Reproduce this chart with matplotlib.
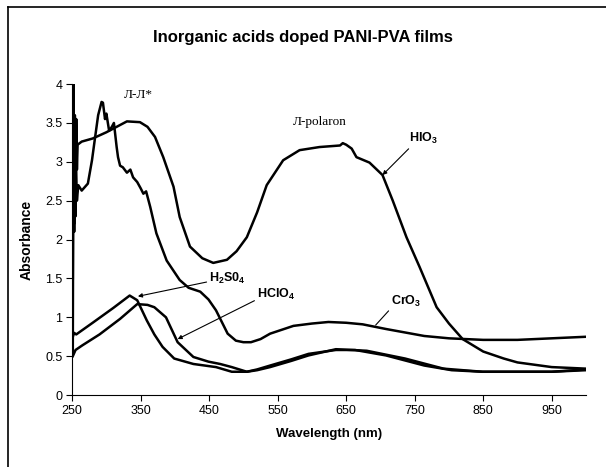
import numpy as np
import matplotlib
matplotlib.use("Agg")
import matplotlib.pyplot as plt
from matplotlib.lines import Line2D
from matplotlib.ticker import FuncFormatter

plt.rcParams['font.family'] = ['Liberation Sans', 'DejaVu Sans']
plt.rcParams['mathtext.fontset'] = 'custom'
plt.rcParams['mathtext.bf'] = 'Liberation Sans:bold'
plt.rcParams['mathtext.rm'] = 'Liberation Sans:bold'
plt.rcParams['mathtext.default'] = 'bf'

# HIO3
hio3_x = [251, 252, 253, 254, 255, 256, 257, 258, 264, 280, 300, 315, 330, 349, 360, 371,
          383, 398, 407, 422, 440, 456, 476, 490, 505, 520, 534, 558, 582, 611, 641, 645,
          650, 658, 665, 684, 703, 718, 738, 757, 782, 800, 820, 850, 880, 900, 950, 1000]
hio3_y = [0.55, 4.2, 2.1, 3.6, 2.3, 3.55, 2.9, 3.22, 3.26, 3.3, 3.38, 3.45, 3.52, 3.51, 3.45, 3.32,
          3.06, 2.68, 2.29, 1.91, 1.76, 1.70, 1.74, 1.85, 2.03, 2.35, 2.70, 3.02, 3.15, 3.19, 3.21, 3.24,
          3.22, 3.17, 3.06, 2.99, 2.83, 2.50, 2.03, 1.65, 1.13, 0.92, 0.72, 0.56, 0.47, 0.42, 0.36, 0.34]

# CrO3
cro3_x = [251, 252, 253, 255, 257, 259, 264, 273, 279, 283, 288, 293, 295, 298, 300, 304, 308,
          311, 315, 317, 320, 324, 330, 335, 339, 345, 350, 354, 358, 364, 373, 388, 407, 420, 437,
          449, 460, 477, 489, 500, 511, 525, 539, 573, 600, 624, 650, 674, 708, 764, 800, 850, 900,
          950, 1000]
cro3_y = [1.5, 4.2, 2.2, 3.2, 2.5, 2.7, 2.63, 2.72, 3.02, 3.28, 3.6, 3.77, 3.76, 3.55, 3.62, 3.4, 3.45,
          3.5, 3.19, 3.06, 2.95, 2.93, 2.86, 2.9, 2.8, 2.74, 2.66, 2.59, 2.62, 2.42, 2.08, 1.73, 1.48,
          1.38, 1.33, 1.23, 1.09, 0.79, 0.70, 0.68, 0.68, 0.72, 0.79, 0.89, 0.92, 0.94, 0.93, 0.91, 0.85,
          0.76, 0.73, 0.71, 0.71, 0.73, 0.75]

# H2SO4
h2so4_x = [251, 253, 256, 280, 310, 334, 345, 359, 370, 382, 399, 427, 460, 483, 505, 520, 539,
           570, 595, 635, 663, 708, 764, 804, 849, 900, 950, 1000]
h2so4_y = [0.75, 0.80, 0.78, 0.93, 1.12, 1.28, 1.22, 0.96, 0.78, 0.62, 0.47, 0.40, 0.36, 0.30, 0.30, 0.33, 0.38,
           0.46, 0.53, 0.58, 0.58, 0.51, 0.38, 0.32, 0.30, 0.30, 0.30, 0.32]

# HClO4
hclo4_x = [251, 255, 265, 290, 320, 345, 360, 370, 387, 404, 427, 449, 466, 483, 505, 520, 539,
           570, 595, 635, 680, 736, 792, 849, 900, 950, 1000]
hclo4_y = [0.50, 0.58, 0.64, 0.78, 0.98, 1.17, 1.16, 1.13, 1.00, 0.68, 0.49, 0.43, 0.40, 0.36, 0.30, 0.32, 0.36,
           0.44, 0.51, 0.59, 0.57, 0.47, 0.34, 0.30, 0.30, 0.30, 0.33]

xticks = [250, 350, 450, 550, 650, 750, 850, 950]
yticks = [0, 0.5, 1, 1.5, 2, 2.5, 3, 3.5, 4]

fig = plt.figure(figsize=(6.06, 4.67), dpi=100)
ax = fig.add_axes([0.119, 0.154, 0.848, 0.666])

for xs, ys in [(hio3_x, hio3_y), (cro3_x, cro3_y), (h2so4_x, h2so4_y), (hclo4_x, hclo4_y)]:
    ax.plot(xs, ys, color='black', lw=1.8, solid_joinstyle='round')

ax.set_xlim(250, 1000)
ax.set_ylim(0, 4)
ax.set_xticks(xticks)
ax.set_yticks(yticks)
ax.yaxis.set_major_formatter(FuncFormatter(lambda v, p: '%g' % v))
ax.tick_params(direction='out', length=4, width=0.8, labelsize=9, pad=3)
for s in ['top', 'right']:
    ax.spines[s].set_visible(False)
for s in ['left', 'bottom']:
    ax.spines[s].set_linewidth(0.8)

ax.set_xlabel('Wavelength (nm)', fontsize=9.5, fontweight='bold', labelpad=8)
ax.set_ylabel('Absorbance', fontsize=10, fontweight='bold', labelpad=8)
fig.text(0.5, 0.919, 'Inorganic acids doped PANI-PVA films', ha='center', va='center',
         fontsize=12, fontweight='bold')

serif = ['Liberation Serif', 'DejaVu Serif']
ax.text(346, 3.86, 'Л-Л*', family=serif, fontsize=9.5, ha='center', va='center')
ax.text(611, 3.51, 'Л-polaron', family=serif, fontsize=9.5, ha='center', va='center')

arrow = dict(arrowstyle='-|>', color='black', lw=0.8, mutation_scale=6, shrinkA=0, shrinkB=0)
ax.annotate('HIO$_3$', xy=(703, 2.83), xytext=(762, 3.30), fontsize=9, fontweight='bold',
            ha='center', va='center', arrowprops=dict(arrow, relpos=(0.1, 0.0)))
ax.annotate('H$_2$S0$_4$', xy=(346, 1.27), xytext=(477, 1.50), fontsize=9, fontweight='bold',
            ha='center', va='center', arrowprops=dict(arrow, relpos=(0.0, 0.3)))
ax.annotate('HClO$_4$', xy=(404, 0.72), xytext=(548, 1.29), fontsize=9, fontweight='bold',
            ha='center', va='center', arrowprops=dict(arrow, relpos=(0.0, 0.2)))
ax.annotate('CrO$_3$', xy=(693, 0.90), xytext=(738, 1.20), fontsize=9, fontweight='bold',
            ha='center', va='center',
            arrowprops=dict(arrowstyle='-', color='black', lw=0.8, shrinkA=0, shrinkB=0, relpos=(0.0, 0.1)))

# frame of the chart area
fig.add_artist(Line2D([8 / 606, 8 / 606], [0, 1 - 7 / 467], color='black', lw=1.2))
fig.add_artist(Line2D([8 / 606, 1], [1 - 7 / 467, 1 - 7 / 467], color='black', lw=1.2))

fig.savefig('out.png', dpi=100)
